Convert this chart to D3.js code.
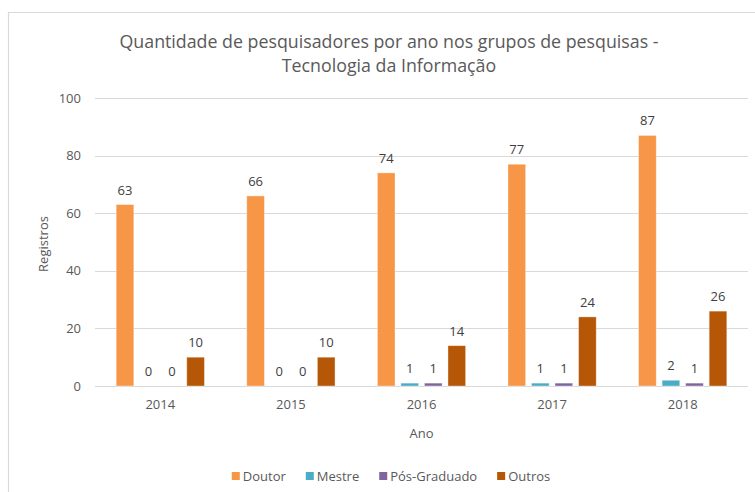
<!DOCTYPE html>
<html>
<head>
<meta charset="utf-8">
<script src="https://cdn.jsdelivr.net/npm/d3@7"></script>
<style>
  body { margin: 0; background: #fff; }
  svg { display: block; font-family: "Open Sans", sans-serif; }
</style>
</head>
<body>
<svg id="chart" width="755" height="492"></svg>
<script>
const anos = ["2014", "2015", "2016", "2017", "2018"];
const series = ["Doutor", "Mestre", "Pós-Graduado", "Outros"];
const doutor = [63, 66, 74, 77, 87];
const mestre = [0, 0, 1, 1, 2];
const posGraduado = [0, 0, 1, 1, 1];
const outros = [10, 10, 14, 24, 26];
const yTicks = [0, 20, 40, 60, 80, 100];
const cores = ["#F79646", "#4BACC6", "#8064A2", "#B65708"];

const valores = [doutor, mestre, posGraduado, outros];

const svg = d3.select("#chart");
const W = 755, H = 492;
const m = { left: 95, right: 7, top: 98, bottom: 106 };

// chart frame (only left and top edges visible in the crop)
svg.append("path")
    .attr("d", `M8.5,${H}V12.5H${W}`)
    .attr("fill", "none")
    .attr("stroke", "#d9d9d9")
    .attr("stroke-width", 1.2);

const x = d3.scaleBand().domain(anos).range([m.left, W - m.right]);
const xInner = d3.scaleBand().domain(series)
    .range([0, x.bandwidth()]).paddingInner(0.25).paddingOuter(0.9);
const y = d3.scaleLinear().domain([0, 100]).range([H - m.bottom, m.top]);

// gridlines
svg.append("g").selectAll("line").data(yTicks).join("line")
    .attr("x1", m.left).attr("x2", W - m.right)
    .attr("y1", d => Math.round(y(d)) + 0.5).attr("y2", d => Math.round(y(d)) + 0.5)
    .attr("stroke", "#d9d9d9").attr("stroke-width", 1);

// y axis labels
const yAxis = svg.append("g")
    .attr("transform", `translate(${m.left - 14},0)`)
    .call(d3.axisLeft(y).tickValues(yTicks).tickSize(0).tickPadding(0));
yAxis.select(".domain").remove();
yAxis.selectAll("text").attr("fill", "#595959").attr("font-size", 13)
    .attr("font-family", "Open Sans, sans-serif");

// x axis labels
const xAxis = svg.append("g")
    .attr("transform", `translate(0,${y(0)})`)
    .call(d3.axisBottom(x).tickSize(0).tickPadding(14));
xAxis.select(".domain").remove();
xAxis.selectAll("text").attr("fill", "#595959").attr("font-size", 13)
    .attr("font-family", "Open Sans, sans-serif");

// bars
const linhas = [];
anos.forEach((a, i) => series.forEach((s, j) => linhas.push({ ano: a, serie: s, j, v: valores[j][i] })));

const grupo = svg.append("g");
grupo.selectAll("rect").data(linhas.filter(d => d.v > 0)).join("rect")
    .attr("x", d => x(d.ano) + xInner(d.serie))
    .attr("y", d => y(d.v))
    .attr("width", xInner.bandwidth())
    .attr("height", d => y(0) - y(d.v))
    .attr("fill", d => cores[d.j])
    .attr("stroke", "rgba(255,255,255,0.45)")
    .attr("stroke-width", 0.8);

grupo.selectAll("text").data(linhas).join("text")
    .attr("x", d => x(d.ano) + xInner(d.serie) + xInner.bandwidth() / 2)
    .attr("y", d => y(d.v) - 10)
    .attr("text-anchor", "middle")
    .attr("font-size", 13)
    .attr("fill", "#404040")
    .text(d => d.v);

// title
const titulo = svg.append("text")
    .attr("x", 389).attr("y", 48)
    .attr("text-anchor", "middle")
    .attr("font-size", 17.8)
    .attr("fill", "#595959");
titulo.append("tspan").attr("x", 389).text("Quantidade de pesquisadores por ano nos grupos de pesquisas -");
titulo.append("tspan").attr("x", 389).attr("dy", 24).text("Tecnologia da Informação");

// axis titles
svg.append("text")
    .attr("transform", `translate(48,${(y(0) + y(100)) / 2 + 2}) rotate(-90)`)
    .attr("text-anchor", "middle").attr("font-size", 13).attr("fill", "#595959")
    .text("Registros");
svg.append("text")
    .attr("x", (m.left + W - m.right) / 2).attr("y", 438)
    .attr("text-anchor", "middle").attr("font-size", 13).attr("fill", "#595959")
    .text("Ano");

// legend
const legenda = svg.append("g").attr("font-size", 13).attr("fill", "#595959");
let lx = 0;
series.forEach((s, j) => {
    const g = legenda.append("g").attr("transform", `translate(${lx},0)`);
    g.append("rect").attr("x", 0).attr("y", -9).attr("width", 8).attr("height", 8).attr("fill", cores[j]);
    const t = g.append("text").attr("x", 11).attr("y", 0).text(s);
    lx += 11 + t.node().getComputedTextLength() + 20;
});
const lw = lx - 20;
legenda.attr("transform", `translate(${391 - lw / 2},481)`);
</script>
</body>
</html>
